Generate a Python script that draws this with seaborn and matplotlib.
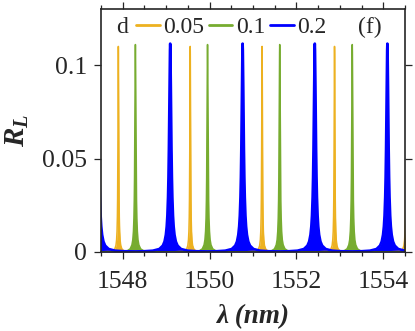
import matplotlib
matplotlib.use("Agg")
import matplotlib.pyplot as plt
import numpy as np
import pandas as pd
import seaborn as sns
from matplotlib.lines import Line2D
from matplotlib.ticker import MultipleLocator, FixedLocator

# peak centres (nm) for each spacing d
d_labels = ["0.05", "0.1", "0.2"]
colors = ["#EDB120", "#77AC30", "#0000FF"]
widths = [1.1, 1.1, 1.9]

centers_005 = [1547.898, 1549.553, 1551.208, 1552.876, 1554.53]
centers_01 = [1546.63, 1548.291, 1549.952, 1551.614, 1553.285, 1554.95]
centers_02 = [1547.425, 1549.092, 1550.760, 1552.422, 1554.093]

# one-sided line profile of a peak: offset from centre (nm) -> R_L
offs_005 = [0, 0.002, 0.004, 0.006, 0.008, 0.01, 0.013, 0.017, 0.022, 0.03,
            0.04, 0.055, 0.08, 0.12, 0.2, 0.4, 0.8]
vals_005 = [0.110, 0.1058, 0.0948, 0.0809, 0.0671, 0.055, 0.0409, 0.0283,
            0.0188, 0.011, 0.0065, 0.0035, 0.0017, 0.00076, 0.00027,
            0.00007, 0.0]
offs_01 = [0, 0.003, 0.006, 0.009, 0.012, 0.015, 0.02, 0.026, 0.034, 0.045,
           0.06, 0.08, 0.12, 0.18, 0.3, 0.5, 0.8]
vals_01 = [0.111, 0.1067, 0.0957, 0.0816, 0.0677, 0.0555, 0.040, 0.0277,
           0.0181, 0.0111, 0.0065, 0.0038, 0.0017, 0.00077, 0.00028,
           0.0001, 0.00004]
offs_02 = [0, 0.005, 0.01, 0.015, 0.02, 0.03, 0.04, 0.05, 0.065, 0.08, 0.1,
           0.13, 0.17, 0.25, 0.4, 0.6, 0.8]
vals_02 = [0.1115, 0.108, 0.0999, 0.0888, 0.0769, 0.0555, 0.040, 0.0294,
           0.0195, 0.0137, 0.0092, 0.0056, 0.0034, 0.0016, 0.0007, 0.0004,
           0.0003]

series = [(centers_005, offs_005, vals_005),
          (centers_01, offs_01, vals_01),
          (centers_02, offs_02, vals_02)]

sns.set_style("ticks")
plt.rcParams["font.family"] = ["Liberation Serif", "DejaVu Serif"]
plt.rcParams["mathtext.fontset"] = "custom"
plt.rcParams["mathtext.rm"] = "Liberation Serif"
plt.rcParams["mathtext.it"] = "Liberation Serif:italic:bold"
plt.rcParams["mathtext.bf"] = "Liberation Serif:italic:bold"

fig = plt.figure(figsize=(4.15, 3.31), dpi=100)
ax = fig.add_axes([0.2435, 0.2387, 0.7325, 0.734])

for lab, col, lw, (cents, offs, vals) in zip(d_labels, colors, widths, series):
    xs, ys = [], []
    for c in cents:
        xs += [c - o for o in offs[::-1]] + [c + o for o in offs[1:]]
        ys += vals[::-1] + vals[1:]
    df = pd.DataFrame({"lam": xs, "R": ys})
    ax.fill_between(df["lam"], 0, df["R"], color=col, linewidth=0)
    sns.lineplot(data=df, x="lam", y="R", ax=ax, color=col, linewidth=lw,
                 estimator=None, sort=False)

ax.set_xlim(1547.5, 1554.5)
ax.set_ylim(0, 0.13)
ax.xaxis.set_major_locator(FixedLocator([1548, 1550, 1552, 1554]))
ax.xaxis.set_minor_locator(MultipleLocator(0.5))
ax.yaxis.set_major_locator(FixedLocator([0, 0.05, 0.1]))
ax.set_yticklabels(["0", "0.05", "0.1"])
ax.tick_params(which="both", direction="out", top=True, right=True,
               labelsize=18.5, width=0.9)
ax.tick_params(axis="x", pad=9)
ax.tick_params(axis="y", pad=5)
ax.tick_params(which="major", length=5)
ax.tick_params(which="minor", length=2.8)
for s in ax.spines.values():
    s.set_linewidth(1.2)

ax.set_xlabel("λ (nm)", fontsize=19.5, fontweight="bold", style="italic",
              labelpad=8)
ax.set_ylabel(r"$\mathbf{R_L}$", fontsize=21, labelpad=8)

handles = [Line2D([], [], color=c, linewidth=2) for c in colors]
ax.legend(handles, d_labels, ncol=3, frameon=False, fontsize=17,
          loc="center left", bbox_to_anchor=(0.115, 0.926),
          borderaxespad=0, borderpad=0, handlelength=1.0,
          handletextpad=0.15, columnspacing=0.2)
ax.text(0.07, 0.926, "d", transform=ax.transAxes, fontsize=17,
        ha="center", va="center")
ax.text(0.885, 0.926, "(f)", transform=ax.transAxes, fontsize=17,
        ha="center", va="center")

fig.savefig("out.png", dpi=100)
